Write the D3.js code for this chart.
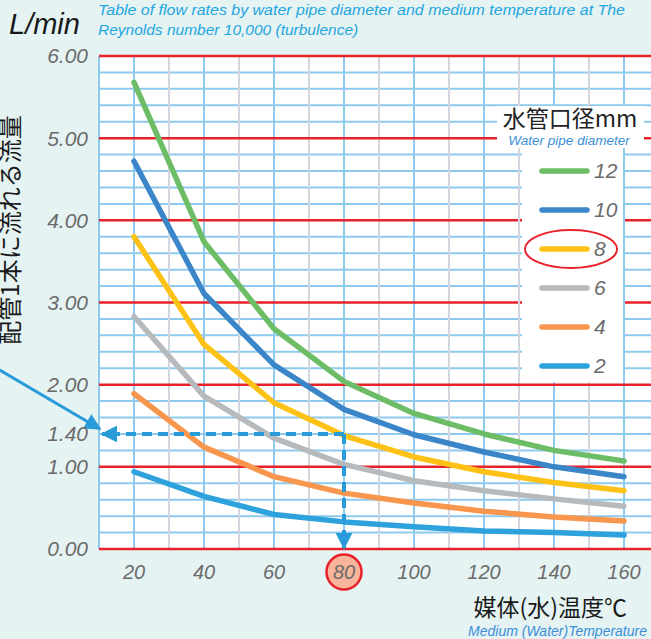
<!DOCTYPE html>
<html><head><meta charset="utf-8">
<script src="https://cdn.jsdelivr.net/npm/d3@7"></script>
<style>html,body{margin:0;padding:0;background:#e5f3f3;}svg{display:block;}</style>
</head><body>
<script>
const temps = [20, 40, 60, 80, 100, 120, 140, 160];
const diameters = ["12", "10", "8", "6", "4", "2"];
const flow12 = [5.68, 3.74, 2.68, 2.04, 1.65, 1.40, 1.20, 1.07];
const flow10 = [4.72, 3.11, 2.24, 1.70, 1.39, 1.18, 1.00, 0.88];
const flow8  = [3.80, 2.49, 1.78, 1.38, 1.12, 0.94, 0.81, 0.71];
const flow6  = [2.83, 1.86, 1.35, 1.03, 0.83, 0.71, 0.61, 0.52];
const flow4  = [1.89, 1.24, 0.88, 0.68, 0.56, 0.46, 0.39, 0.34];
const flow2  = [0.94, 0.64, 0.42, 0.33, 0.27, 0.22, 0.20, 0.17];
const yTicks = [0, 1, 1.4, 2, 3, 4, 5, 6];
const xTickLabels = ["20","40","60","80","100","120","140","160"];
const highlightTemp = 80, highlightFlow = 1.40;
const colors = ["#6cbd66", "#3a86c8", "#fdc215", "#b6babc", "#f7964c", "#2ea2dc"];
const seriesValues = [flow12, flow10, flow8, flow6, flow4, flow2];

const W = 651, H = 639;
const svg = d3.select("body").append("svg").attr("width", W).attr("height", H);
const x = d3.scaleLinear().domain([10, 170]).range([99, 659]);
const y = d3.scaleLinear().domain([0, 6]).range([549, 56]);

svg.append("rect").attr("x", x(10)).attr("y", y(6)).attr("width", W - x(10)).attr("height", y(0) - y(6)).attr("fill", "#ffffff");

const grid = svg.append("g");
d3.range(0, 31).forEach(i => {
  const v = i * 0.2;
  if (i % 5 !== 0) grid.append("line").attr("x1", x(10)).attr("x2", W).attr("y1", y(v)).attr("y2", y(v))
    .attr("stroke", "#8ec9ee").attr("stroke-width", 2);
});
d3.range(10, 171, 10).forEach(t => {
  const blue = (t % 20 === 0) || t === 10;
  grid.append("line").attr("x1", x(t)).attr("x2", x(t)).attr("y1", y(6)).attr("y2", y(0))
    .attr("stroke", blue ? "#8ec9ee" : "#d3d7dd").attr("stroke-width", 2);
});
d3.range(0, 7).forEach(v => {
  grid.append("line").attr("x1", x(10)).attr("x2", W).attr("y1", y(v)).attr("y2", y(v))
    .attr("stroke", "#e8222b").attr("stroke-width", 2.5);
});

// legend backgrounds (cover grid)
svg.append("rect").attr("x", 497).attr("y", 106).attr("width", 147).attr("height", 42).attr("fill", "#ffffff");
svg.append("rect").attr("x", 522).attr("y", 148).attr("width", 101).attr("height", 234).attr("fill", "#ffffff");
svg.append("line").attr("x1", x(130)).attr("x2", x(130)).attr("y1", 148).attr("y2", 382).attr("stroke", "#d3d7dd").attr("stroke-width", 2);
svg.append("line").attr("x1", x(160)).attr("x2", x(160)).attr("y1", 148).attr("y2", 382).attr("stroke", "#8ec9ee").attr("stroke-width", 2);

const line = d3.line().x((d, i) => x(temps[i])).y(d => y(d));
seriesValues.forEach((vals, k) => {
  svg.append("path").datum(vals).attr("d", line).attr("fill", "none")
    .attr("stroke", colors[k]).attr("stroke-width", 5.5).attr("stroke-linecap", "round").attr("stroke-linejoin", "round");
});

const dashC = "#2a9bd9";
const defs = svg.append("defs");
defs.append("marker").attr("id", "ah").attr("viewBox", "0 0 10 10").attr("refX", 9).attr("refY", 5)
  .attr("markerWidth", 4.2).attr("markerHeight", 4.2).attr("orient", "auto").attr("markerUnits", "strokeWidth")
  .append("path").attr("d", "M0,0 L10,5 L0,10 Z").attr("fill", dashC);
defs.append("marker").attr("id", "ah2").attr("viewBox", "0 0 10 10").attr("refX", 9).attr("refY", 5)
  .attr("markerWidth", 6.5).attr("markerHeight", 5.5).attr("orient", "auto").attr("markerUnits", "strokeWidth")
  .append("path").attr("d", "M0,0 L10,5 L0,10 Z").attr("fill", dashC);
svg.append("line").attr("x1", x(highlightTemp)).attr("x2", x(10) + 3).attr("y1", y(highlightFlow)).attr("y2", y(highlightFlow))
  .attr("stroke", dashC).attr("stroke-width", 4).attr("stroke-dasharray", "10,6").attr("marker-end", "url(#ah)");
svg.append("line").attr("x1", x(highlightTemp)).attr("x2", x(highlightTemp)).attr("y1", y(highlightFlow)).attr("y2", y(0) - 1)
  .attr("stroke", dashC).attr("stroke-width", 4).attr("stroke-dasharray", "10,6").attr("marker-end", "url(#ah)");

svg.append("line").attr("x1", -2).attr("y1", 369).attr("x2", x(10) + 1).attr("y2", y(highlightFlow) - 5)
  .attr("stroke", dashC).attr("stroke-width", 3).attr("marker-end", "url(#ah2)");

svg.append("g").selectAll("text").data(yTicks).join("text")
  .attr("x", 88).attr("y", d => y(d)).attr("dy", "0.35em").attr("text-anchor", "end")
  .attr("font-family", "Liberation Sans, Arial, sans-serif").attr("font-style", "italic")
  .attr("font-size", 21).attr("fill", "#6b6b6b").text(d => d.toFixed(2));

svg.append("circle").attr("cx", x(highlightTemp)).attr("cy", 572).attr("r", 17.5)
  .attr("fill", "#f8b59b").attr("stroke", "#e8222b").attr("stroke-width", 2.5);
svg.append("g").selectAll("text").data(temps).join("text")
  .attr("x", d => x(d)).attr("y", 572).attr("dy", "0.35em").attr("text-anchor", "middle")
  .attr("font-family", "Liberation Sans, Arial, sans-serif").attr("font-style", "italic")
  .attr("font-size", 20).attr("fill", "#6b6b6b").text((d, i) => xTickLabels[i]);

// legend
svg.append("text").attr("x", 570).attr("y", 127).attr("text-anchor", "middle")
  .attr("font-family", "Noto Sans CJK JP, sans-serif").attr("font-size", 23).attr("fill", "#222").text("水管口径mm");
svg.append("text").attr("x", 569).attr("y", 145).attr("text-anchor", "middle")
  .attr("font-family", "Liberation Sans, Arial, sans-serif").attr("font-style", "italic")
  .attr("font-size", 13.5).attr("fill", "#3a8fd8").text("Water pipe diameter");
const lg = svg.append("g").selectAll("g").data(diameters).join("g")
  .attr("transform", (d, i) => `translate(0, ${171 + i * 39})`);
lg.append("line").attr("x1", 542).attr("x2", 587).attr("y1", 0).attr("y2", 0)
  .attr("stroke", (d, i) => colors[i]).attr("stroke-width", 5.5).attr("stroke-linecap", "round");
lg.append("text").attr("x", 594).attr("y", 0).attr("dy", "0.35em")
  .attr("font-family", "Liberation Sans, Arial, sans-serif").attr("font-style", "italic")
  .attr("font-size", 21).attr("fill", "#6b6b6b").text(d => d);
svg.append("ellipse").attr("cx", 571).attr("cy", 249).attr("rx", 46).attr("ry", 19)
  .attr("fill", "none").attr("stroke", "#e8222b").attr("stroke-width", 2);

svg.append("text").attr("x", 9).attr("y", 34).attr("font-family", "Liberation Sans, Arial, sans-serif")
  .attr("font-style", "italic").attr("font-size", 29).attr("fill", "#1a1a1a").text("L/min");
svg.append("text").attr("x", 98).attr("y", 15).attr("font-family", "Liberation Sans, Arial, sans-serif")
  .attr("font-style", "italic").attr("font-size", 15.5).attr("fill", "#1fa6e0")
  .attr("textLength", 527).attr("lengthAdjust", "spacingAndGlyphs")
  .text("Table of flow rates by water pipe diameter and medium temperature at The");
svg.append("text").attr("x", 98).attr("y", 35).attr("font-family", "Liberation Sans, Arial, sans-serif")
  .attr("font-style", "italic").attr("font-size", 15.5).attr("fill", "#1fa6e0")
  .text("Reynolds number 10,000 (turbulence)");

svg.append("text").attr("transform", "translate(19,230) rotate(-90)").attr("text-anchor", "middle")
  .attr("font-family", "Noto Sans CJK JP, sans-serif").attr("font-size", 24).attr("fill", "#1a1a1a")
  .text("配管1本に流れる流量");

svg.append("text").attr("x", 627).attr("y", 616).attr("text-anchor", "end")
  .attr("font-family", "Noto Sans CJK JP, sans-serif").attr("font-size", 23).attr("fill", "#1a1a1a")
  .text("媒体(水)温度℃");
svg.append("text").attr("x", 647).attr("y", 636).attr("text-anchor", "end")
  .attr("font-family", "Liberation Sans, Arial, sans-serif").attr("font-style", "italic")
  .attr("font-size", 14).attr("fill", "#3a8fd8").text("Medium (Water)Temperature");
</script>
</body></html>
